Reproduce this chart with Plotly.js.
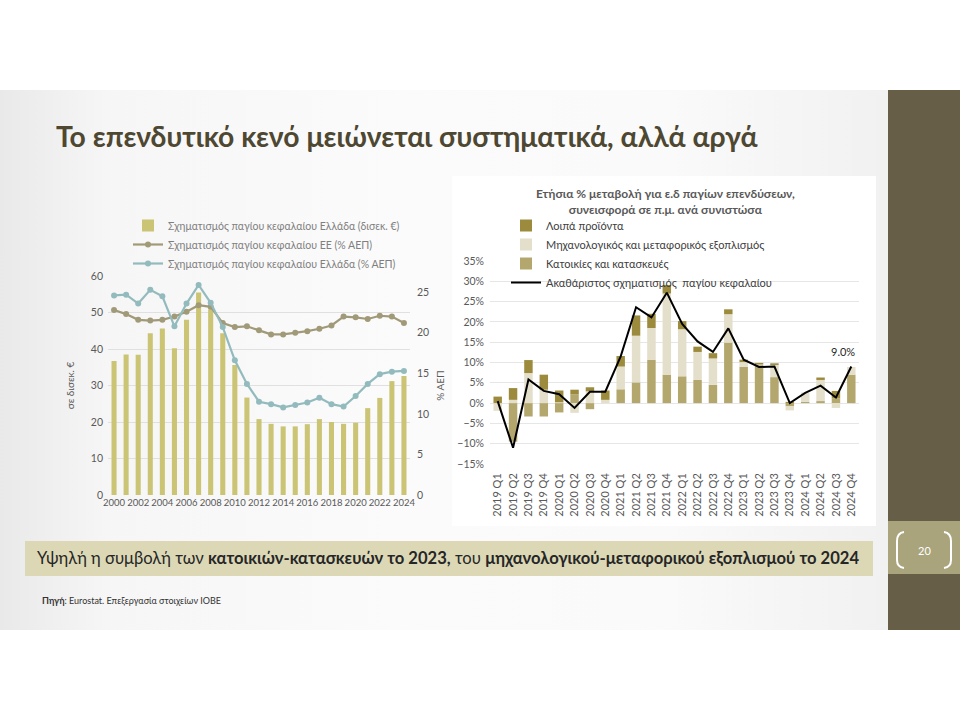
<!DOCTYPE html>
<html>
<head>
<meta charset="utf-8">
<script src="https://cdn.plot.ly/plotly-3.0.1.min.js"></script>
<style>
  html, body { margin:0; padding:0; background:#ffffff; }
  #wrap { position:relative; width:960px; height:720px; overflow:hidden; background:#ffffff; }
  #panel { position:absolute; left:0; top:90px; width:888px; height:540px;
           background: linear-gradient(to right, #e9e9e9 0%, #f6f6f6 12%, #fbfbfb 45%, #fafafa 75%, #f1f1f1 100%); }
  #rbox { position:absolute; left:452px; top:176px; width:424px; height:350px; background:#ffffff; }
  #strip { position:absolute; left:888px; top:90px; width:72px; height:540px; background:#675e47; }
  #khaki { position:absolute; left:888px; top:521px; width:72px; height:53px; background:#a9a47c; }
  #band { position:absolute; left:25px; top:541px; width:848px; height:35px; background:#dcd8b6; }
  #chart { position:absolute; left:0; top:0; width:960px; height:720px; }
</style>
</head>
<body>
<div id="wrap">
  <div id="panel"></div>
  <div id="rbox"></div>
  <div id="strip"></div>
  <div id="khaki"></div>
  <div id="band"></div>
  <div id="chart"></div>
</div>
<script>
// ---------- Left chart data ----------
const years = [2000,2001,2002,2003,2004,2005,2006,2007,2008,2009,2010,2011,2012,2013,2014,2015,2016,2017,2018,2019,2020,2021,2022,2023,2024];
const yearTicks = [2000,2002,2004,2006,2008,2010,2012,2014,2016,2018,2020,2022,2024];
const gfcfGreeceBn = [36.7,38.5,38.4,44.3,45.6,40.2,48.0,55.5,50.9,44.3,35.6,26.7,20.8,19.5,18.8,18.8,19.4,20.8,20.0,19.5,19.8,23.8,26.6,31.2,32.6];
const gfcfEUpctGDP = [22.8,22.3,21.6,21.5,21.6,22.0,22.6,23.4,23.2,21.2,20.7,20.8,20.3,19.8,19.8,20.0,20.2,20.5,20.9,22.0,21.9,21.7,22.1,22.0,21.2];
const gfcfGreecePctGDP = [24.6,24.7,23.6,25.3,24.5,20.8,23.6,25.9,23.7,20.7,16.6,13.7,11.5,11.2,10.8,11.1,11.4,12.0,11.2,10.9,12.2,13.7,14.9,15.2,15.3];

// ---------- Right chart data ----------
const quarters = ['2019 Q1','2019 Q2','2019 Q3','2019 Q4','2020 Q1','2020 Q2','2020 Q3','2020 Q4',
                  '2021 Q1','2021 Q2','2021 Q3','2021 Q4','2022 Q1','2022 Q2','2022 Q3','2022 Q4',
                  '2023 Q1','2023 Q2','2023 Q3','2023 Q4','2024 Q1','2024 Q2','2024 Q3','2024 Q4'];
const housing   = [0.0,-9.5,-3.3,-3.3,-2.3,2.2,-1.5,0.0,3.4,5.1,10.7,7.0,6.6,5.7,4.5,14.9,8.9,9.3,6.4,-0.8,0.3,0.5,1.2,7.0];
const machinery = [-1.9,0.8,7.4,3.3,0.2,-2.4,2.9,0.8,5.6,11.5,7.8,20.0,11.6,6.9,6.5,7.0,1.2,0.2,3.0,-1.0,2.3,5.2,-1.2,1.9];
const otherProd = [1.6,2.9,3.2,3.7,2.9,1.1,1.0,2.3,2.6,5.0,3.5,2.1,2.0,1.3,1.3,1.2,0.6,0.4,0.4,0.3,0.0,0.6,1.8,0.0];
const gfcfTotal = [0.5,-11.0,5.8,3.0,2.2,-1.2,2.8,2.8,11.5,23.6,21.1,27.2,19.5,15.2,12.6,18.4,10.7,8.9,9.0,0.0,2.5,4.3,1.4,9.0];

const FONT = 'Lato, "Open Sans", "DejaVu Sans", sans-serif';
const GRAY = '#595959';
const px = x => x / 960;
const py = y => 1 - y / 720;

const traces = [
  { type:'bar', x:years, y:gfcfGreeceBn, width:0.42, marker:{color:'#cbc475'},
    name:'Σχηματισμός παγίου κεφαλαίου Ελλάδα (δισεκ. €)', xaxis:'x', yaxis:'y', legend:'legend', hoverinfo:'x+y' },
  { type:'scatter', mode:'lines+markers', x:years, y:gfcfEUpctGDP, line:{color:'#a19a78', width:2.2},
    marker:{color:'#a19a78', size:6}, name:'Σχηματισμός παγίου κεφαλαίου ΕΕ (% ΑΕΠ)', xaxis:'x', yaxis:'y2', legend:'legend' },
  { type:'scatter', mode:'lines+markers', x:years, y:gfcfGreecePctGDP, line:{color:'#93bbbd', width:2.2},
    marker:{color:'#93bbbd', size:6}, name:'Σχηματισμός παγίου κεφαλαίου Ελλάδα (% ΑΕΠ)', xaxis:'x', yaxis:'y2', legend:'legend' },

  { type:'bar', x:quarters, y:housing, width:0.55, marker:{color:'#b4a76e'}, name:'Κατοικίες και κατασκευές',
    xaxis:'x3', yaxis:'y3', legend:'legend2', legendrank:3 },
  { type:'bar', x:quarters, y:machinery, width:0.55, marker:{color:'#e3dfca'}, name:'Μηχανολογικός και μεταφορικός εξοπλισμός',
    xaxis:'x3', yaxis:'y3', legend:'legend2', legendrank:2 },
  { type:'bar', x:quarters, y:otherProd, width:0.55, marker:{color:'#9c8b3c'}, name:'Λοιπά προϊόντα',
    xaxis:'x3', yaxis:'y3', legend:'legend2', legendrank:1 },
  { type:'scatter', mode:'lines', x:quarters, y:gfcfTotal, line:{color:'#000000', width:2},
    name:'Ακαθάριστος σχηματισμός  παγίου κεφαλαίου', xaxis:'x3', yaxis:'y3', legend:'legend2', legendrank:4 }
];

const layout = {
  width:960, height:720,
  margin:{l:0, r:0, t:0, b:0},
  paper_bgcolor:'rgba(0,0,0,0)', plot_bgcolor:'rgba(0,0,0,0)',
  font:{family:FONT, color:GRAY, size:11},
  barmode:'relative',
  showlegend:true,
  xaxis:{ domain:[px(108), px(410)], range:[1999.5, 2024.5], tickvals:yearTicks, ticktext:yearTicks.map(String),
          tickangle:0, tickfont:{size:9.5, color:GRAY}, showgrid:false, zeroline:false, showline:false, ticks:'', anchor:'y', fixedrange:true },
  yaxis:{ domain:[py(495), py(276)], range:[0,60], dtick:10, gridcolor:'#e0e0e0', gridwidth:1, zeroline:false,
          tickfont:{size:10.5, color:GRAY}, ticks:'', ticklabelstandoff:4, anchor:'x',
          title:{text:'σε δισεκ. €', font:{size:10, color:GRAY}, standoff:14} },
  yaxis2:{ overlaying:'y', side:'right', anchor:'x', range:[0,27], tickvals:[0,5,10,15,20,25], showgrid:false, zeroline:false,
          tickfont:{size:10.5, color:GRAY}, ticks:'', ticklabelstandoff:6,
          title:{text:'% ΑΕΠ', font:{size:10, color:GRAY}, standoff:8} },

  xaxis3:{ domain:[px(490), px(859)], type:'category', anchor:'y3', tickangle:-90, tickfont:{size:11, color:GRAY},
           showgrid:false, zeroline:false, showline:false, ticks:'', ticklabelstandoff:6 },
  yaxis3:{ domain:[py(464), py(261)], range:[-15,35], dtick:5, ticksuffix:'%', anchor:'x3', gridcolor:'#e6e6e6', zeroline:false,
           tickfont:{size:10.5, color:GRAY}, ticks:'', ticklabelstandoff:5 },

  legend:{ x:px(128), y:py(211), xanchor:'left', yanchor:'top', bgcolor:'rgba(0,0,0,0)', font:{size:10.5, color:'#7f7f7f'},
           itemwidth:30, tracegroupgap:0, traceorder:'normal' },
  legend2:{ x:px(506), y:py(211), xanchor:'left', yanchor:'top', bgcolor:'rgba(0,0,0,0)', font:{size:11, color:'#404040'},
            itemwidth:30, tracegroupgap:0 },

  shapes:[
    { type:'path', xref:'paper', yref:'paper', line:{color:'#ffffff', width:2},
      path:`M ${px(904)} ${py(532)} Q ${px(897)} ${py(533)} ${px(897)} ${py(541)} L ${px(897)} ${py(560)} Q ${px(897)} ${py(567)} ${px(904)} ${py(568)}` },
    { type:'path', xref:'paper', yref:'paper', line:{color:'#ffffff', width:2},
      path:`M ${px(944)} ${py(532)} Q ${px(951)} ${py(533)} ${px(951)} ${py(541)} L ${px(951)} ${py(560)} Q ${px(951)} ${py(567)} ${px(944)} ${py(568)}` }
  ],

  annotations:[
    { xref:'paper', yref:'paper', x:px(54), y:py(136), xanchor:'left', yanchor:'middle', showarrow:false,
      text:'<b>Το επενδυτικό κενό μειώνεται συστηματικά, αλλά αργά</b>', font:{family:FONT, size:28.3, color:'#4e4732'} },
    { xref:'paper', yref:'paper', x:px(665), y:py(201), xanchor:'center', yanchor:'middle', showarrow:false,
      text:'<b>Ετήσια % μεταβολή για ε.δ παγίων επενδύσεων,<br>συνεισφορά σε π.μ. ανά συνιστώσα</b>',
      font:{family:FONT, size:12, color:GRAY} },
    { xref:'x3', yref:'y3', x:'2024 Q4', y:9.0, xanchor:'center', yanchor:'bottom', xshift:-8, yshift:7, showarrow:false,
      text:'9.0%', font:{family:FONT, size:11, color:'#262626'} },
    { xref:'paper', yref:'paper', x:px(35), y:py(558), xanchor:'left', yanchor:'middle', showarrow:false,
      text:'Υψηλή η συμβολή των <b>κατοικιών-κατασκευών το 2023,</b> του <b>μηχανολογικού-μεταφορικού εξοπλισμού το 2024</b>',
      font:{family:FONT, size:16.6, color:'#262626'} },
    { xref:'paper', yref:'paper', x:px(40), y:py(600), xanchor:'left', yanchor:'middle', showarrow:false,
      text:'<b>Πηγή</b>: Eurostat. Επεξεργασία στοιχείων ΙΟΒΕ', font:{family:FONT, size:9, color:'#333333'} },
    { xref:'paper', yref:'paper', x:px(924), y:py(550), xanchor:'center', yanchor:'middle', showarrow:false,
      text:'20', font:{family:FONT, size:11, color:'#ffffff'} }
  ]
};

Plotly.newPlot('chart', traces, layout, {displayModeBar:false, staticPlot:true});
</script>
</body>
</html>
